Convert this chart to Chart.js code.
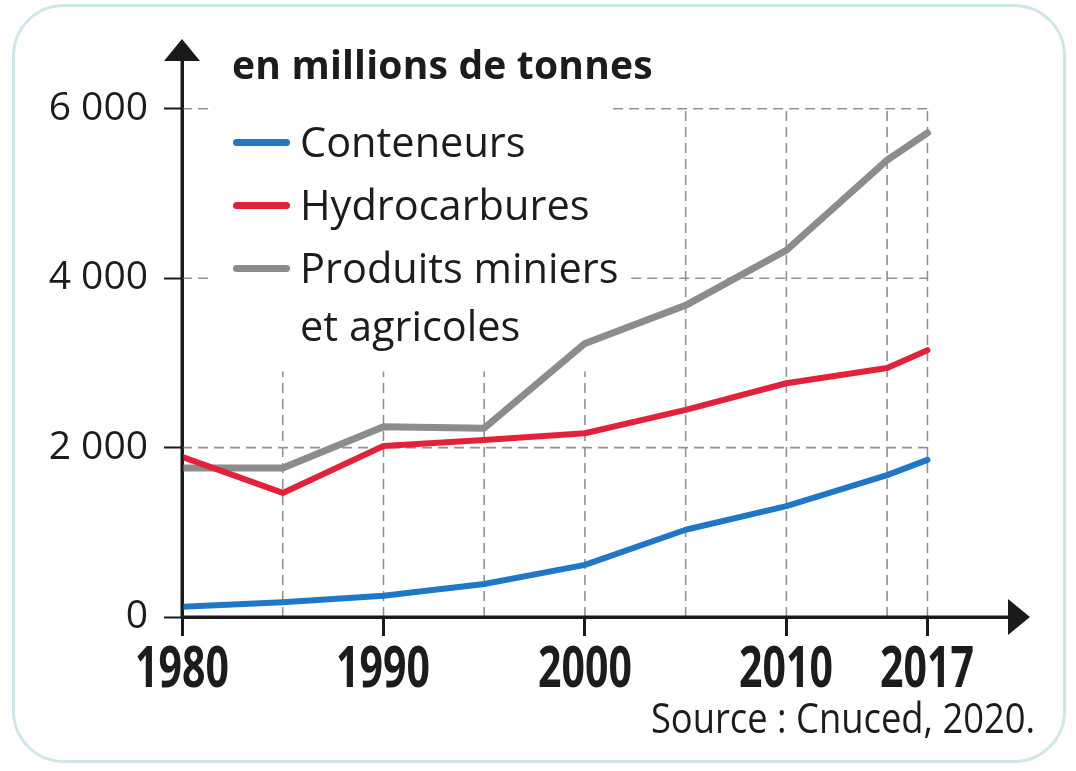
<!DOCTYPE html>
<html>
<head>
<meta charset="utf-8">
<script src="https://cdn.jsdelivr.net/npm/chart.js@4/dist/chart.umd.min.js"></script>
<style>
  html, body { margin: 0; padding: 0; background: #ffffff; }
  #wrap { position: relative; width: 1076px; height: 771px; overflow: hidden; }
  #frame { position: absolute; left: 12px; top: 4px; width: 1054px; height: 759px;
           border: 3px solid #cfe6e9; border-radius: 52px; box-sizing: border-box; }
  canvas { position: absolute; left: 0; top: 0; }
  .txt { position: absolute; white-space: nowrap; color: #1c1c1c; }
  #title { left: 232px; top: 44px; font: bold 39px/39px "Open Sans", sans-serif; letter-spacing: 0.2px; }
  .leg { font: 41.5px/40px "Open Sans", sans-serif; left: 300px; }
  .swatch { position: absolute; left: 233px; width: 57px; height: 7px; border-radius: 4px; }
  #source { right: 41px; top: 696px; font: 42px/42px "Open Sans", sans-serif; transform: scaleX(0.865); transform-origin: right center; }
  .xlab { position: absolute; top: 637px; width: 200px; margin-left: -100px; text-align: center;
          font: bold 57px/57px "Open Sans", sans-serif; color: #1c1c1c; transform: scaleX(0.72); transform-origin: center center; }
</style>
</head>
<body>
<div id="wrap">
  <div id="frame"></div>
  <canvas id="c" width="1076" height="771"></canvas>
  <div id="title" class="txt">en millions de tonnes</div>
  <div class="swatch" style="top:139px;background:#1f77c6"></div>
  <div class="txt leg" style="top:121px">Conteneurs</div>
  <div class="swatch" style="top:202px;background:#e2223b"></div>
  <div class="txt leg" style="top:184px">Hydrocarbures</div>
  <div class="swatch" style="top:265px;background:#8c8c8c"></div>
  <div class="txt leg" style="top:247px">Produits miniers</div>
  <div class="txt leg" style="top:305px">et agricoles</div>
  <div id="source" class="txt">Source : Cnuced, 2020.</div>
</div>
<script>
// ---- data ----
const years = [1980, 1985, 1990, 1995, 2000, 2005, 2010, 2015, 2017];
const conteneurs = [120, 175, 250, 390, 615, 1030, 1310, 1675, 1855];
const hydrocarbures = [1890, 1465, 2020, 2090, 2170, 2445, 2760, 2940, 3150];
const produits = [1760, 1760, 2245, 2230, 3230, 3680, 4330, 5395, 5715];
const xTickValues = [1980, 1990, 2000, 2010, 2017];
const xTickLabels = ["1980", "1990", "2000", "2010", "2017"];
const yTickValues = [0, 2000, 4000, 6000];
const yTickLabels = ["0", "2 000", "4 000", "6 000"];

const toPts = arr => years.map((yr, i) => ({ x: yr, y: arr[i] }));

// dashed grid segments: [orientation, at, from, to]
const gridSegments = [
  ['v', 1985, 0, 2900], ['v', 1990, 0, 2900], ['v', 1995, 0, 2900], ['v', 2000, 0, 2900],
  ['v', 2005, 0, 6000], ['v', 2010, 0, 6000], ['v', 2015, 0, 6000], ['v', 2017, 0, 6000],
  ['h', 6000, 1980, 1981.6], ['h', 6000, 2001.4, 2017],
  ['h', 4000, 1980, 1981.4], ['h', 4000, 2002.3, 2017],
  ['h', 2000, 1980, 2017]
];

const gridPlugin = {
  id: 'dashGrid',
  beforeDatasetsDraw(chart) {
    const { ctx, scales: { x, y } } = chart;
    ctx.save();
    ctx.strokeStyle = '#929292';
    ctx.lineWidth = 1.6;
    ctx.setLineDash([10, 6]);
    gridSegments.forEach(([o, at, a, b]) => {
      ctx.beginPath();
      if (o === 'v') {
        const px = x.getPixelForValue(at);
        ctx.moveTo(px, y.getPixelForValue(a));
        ctx.lineTo(px, y.getPixelForValue(b));
      } else {
        const py = y.getPixelForValue(at);
        ctx.moveTo(x.getPixelForValue(a), py);
        ctx.lineTo(x.getPixelForValue(b), py);
      }
      ctx.stroke();
    });
    ctx.restore();
  }
};

const arrowPlugin = {
  id: 'arrows',
  afterDraw(chart) {
    const { ctx, chartArea: ca } = chart;
    ctx.save();
    ctx.fillStyle = '#1a1a1a';
    ctx.strokeStyle = '#1a1a1a';
    ctx.lineWidth = 3;
    ctx.beginPath();
    ctx.moveTo(ca.left, ca.bottom); ctx.lineTo(ca.left, ca.top - 2); ctx.stroke();
    ctx.beginPath();
    ctx.moveTo(ca.left, ca.top - 19);
    ctx.lineTo(ca.left - 18, ca.top + 3);
    ctx.lineTo(ca.left + 18, ca.top + 3);
    ctx.closePath(); ctx.fill();
    ctx.beginPath();
    ctx.moveTo(ca.left, ca.bottom); ctx.lineTo(ca.right + 2, ca.bottom); ctx.stroke();
    ctx.beginPath();
    ctx.moveTo(ca.right + 22, ca.bottom);
    ctx.lineTo(ca.right, ca.bottom - 18);
    ctx.lineTo(ca.right, ca.bottom + 18);
    ctx.closePath(); ctx.fill();
    ctx.restore();
  }
};

const chart = new Chart(document.getElementById('c'), {
  type: 'line',
  data: {
    datasets: [
      { label: 'Conteneurs', data: toPts(conteneurs), borderColor: '#1f77c6', borderWidth: 6, order: 1 },
      { label: 'Hydrocarbures', data: toPts(hydrocarbures), borderColor: '#e2223b', borderWidth: 6, order: 2 },
      { label: 'Produits miniers et agricoles', data: toPts(produits), borderColor: '#8c8c8c', borderWidth: 7, order: 3 }
    ]
  },
  options: {
    responsive: false,
    animation: false,
    events: [],
    elements: {
      point: { radius: 0 },
      line: { tension: 0, borderCapStyle: 'round', borderJoinStyle: 'round', fill: false }
    },
    layout: { padding: { left: 0, top: 58, right: 68, bottom: 0 } },
    plugins: { legend: { display: false }, tooltip: { enabled: false }, title: { display: false } },
    scales: {
      x: {
        type: 'linear', min: 1980, max: 2021,
        afterFit(s) { s.height = 154; },
        afterBuildTicks(s) { s.ticks = xTickValues.map(v => ({ value: v })); },
        border: { display: true, color: '#1a1a1a', width: 3 },
        grid: { drawOnChartArea: false, drawTicks: true, tickLength: 19, tickWidth: 3, tickColor: '#1a1a1a', color: '#1a1a1a' },
        ticks: { display: false, autoSkip: false, maxRotation: 0 }
      },
      y: {
        type: 'linear', min: 0, max: 6600,
        afterFit(s) { s.width = 182; },
        afterBuildTicks(s) { s.ticks = yTickValues.map(v => ({ value: v })); },
        border: { display: true, color: '#1a1a1a', width: 3 },
        grid: { drawOnChartArea: false, drawTicks: true, tickLength: 18, tickWidth: 2, tickColor: '#1a1a1a', color: '#1a1a1a' },
        ticks: {
          autoSkip: false, padding: 16, color: '#1c1c1c',
          font: { family: '"Open Sans", sans-serif', size: 39 },
          callback: v => yTickLabels[yTickValues.indexOf(v)]
        }
      }
    }
  },
  plugins: [gridPlugin, arrowPlugin]
});

// x tick labels placed with the chart's own x scale
const wrap = document.getElementById('wrap');
xTickValues.forEach((v, i) => {
  const el = document.createElement('div');
  el.className = 'xlab';
  el.textContent = xTickLabels[i];
  el.style.left = chart.scales.x.getPixelForValue(v) + 'px';
  wrap.appendChild(el);
});
</script>
</body>
</html>
